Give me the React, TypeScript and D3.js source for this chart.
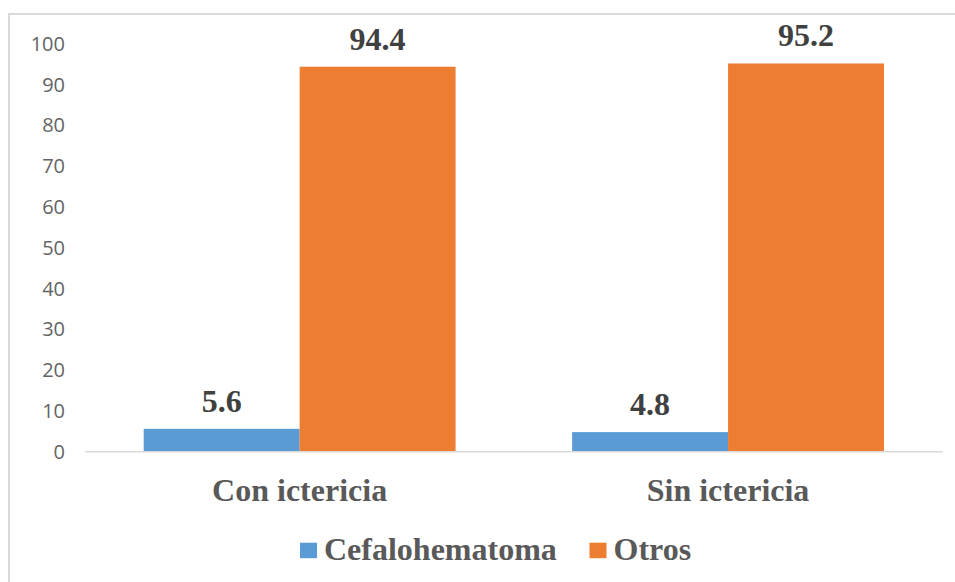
import React from 'react'
import * as d3 from 'd3'

const categories = ['Con ictericia', 'Sin ictericia']
const seriesNames = ['Cefalohematoma', 'Otros']
const cefalohematoma = [5.6, 4.8]
const otros = [94.4, 95.2]
const yTicks = [0, 10, 20, 30, 40, 50, 60, 70, 80, 90, 100]

const COLORS = ['#5B9BD5', '#ED7D31']
const SERIF = '"Liberation Serif", "Times New Roman", serif'
const SANS = '"Open Sans", "Noto Sans", sans-serif'

const width = 955
const height = 582

export default function App() {
  const values = [cefalohematoma, otros]

  const x0 = d3.scaleBand<string>()
    .domain(categories)
    .range([85, 942.7])
    .paddingInner(0.272)
    .paddingOuter(0.137)

  const x1 = d3.scaleBand<string>()
    .domain(seriesNames)
    .range([0, x0.bandwidth()])

  const y = d3.scaleLinear()
    .domain([0, 100])
    .range([451.7, 43.9])

  return (
    <svg
      width={width}
      height={height}
      style={{ position: 'absolute', left: 0, top: 0, background: '#fff' }}
    >
      {/* chart frame, only top/left edges fall inside the picture */}
      <rect x={9} y={14} width={1000} height={700} fill="#fff" stroke="#d9d9d9" strokeWidth={2} />

      {/* y tick labels */}
      {yTicks.map(t => (
        <text
          key={t}
          x={65}
          y={y(t)}
          dy="0.35em"
          textAnchor="end"
          fontFamily={SANS}
          fontSize={20}
          fill="#646464"
        >
          {t}
        </text>
      ))}

      {/* bars */}
      {categories.map((c, ci) => (
        <g key={c} transform={`translate(${x0(c)},0)`}>
          {seriesNames.map((s, si) => (
            <rect
              key={s}
              x={x1(s)}
              y={y(values[si][ci])}
              width={x1.bandwidth()}
              height={y(0) - y(values[si][ci])}
              fill={COLORS[si]}
            />
          ))}
          {seriesNames.map((s, si) => (
            <text
              key={s + '-lbl'}
              x={(x1(s) as number) + x1.bandwidth() / 2}
              y={y(values[si][ci]) - 17}
              textAnchor="middle"
              fontFamily={SERIF}
              fontWeight="bold"
              fontSize={32}
              fill="#404040"
            >
              {values[si][ci].toFixed(1)}
            </text>
          ))}
        </g>
      ))}

      {/* baseline */}
      <line x1={85} x2={942.7} y1={y(0)} y2={y(0)} stroke="#d9d9d9" strokeWidth={1.5} />

      {/* category labels */}
      {categories.map(c => (
        <text
          key={c}
          x={(x0(c) as number) + x0.bandwidth() / 2}
          y={500.7}
          textAnchor="middle"
          fontFamily={SERIF}
          fontWeight="bold"
          fontSize={32}
          fill="#595959"
        >
          {c}
        </text>
      ))}

      {/* legend */}
      {seriesNames.map((s, i) => {
        const lx = i === 0 ? 300 : 589.5
        return (
          <g key={s} transform={`translate(${lx},0)`}>
            <rect x={0} y={542.7} width={17} height={15.5} fill={COLORS[i]} />
            <text
              x={24}
              y={560}
              fontFamily={SERIF}
              fontWeight="bold"
              fontSize={32}
              fill="#595959"
            >
              {s}
            </text>
          </g>
        )
      })}
    </svg>
  )
}
